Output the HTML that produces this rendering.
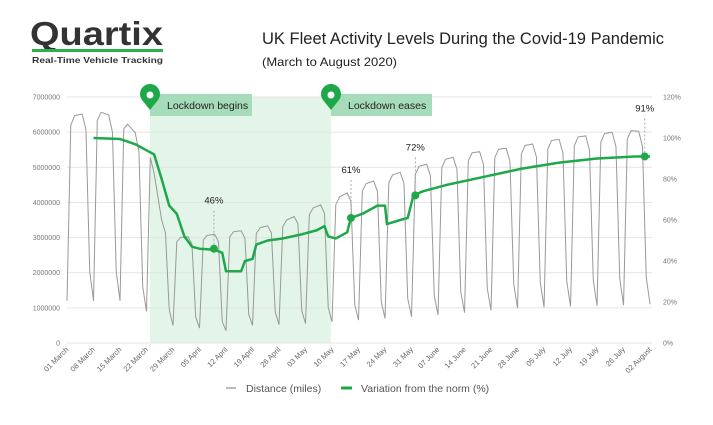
<!DOCTYPE html>
<html><head><meta charset="utf-8"><style>
body{margin:0;background:#fff;width:713px;height:420px;overflow:hidden;font-family:"Liberation Sans",sans-serif}
</style></head><body>
<svg id="s" width="713" height="420" xmlns="http://www.w3.org/2000/svg" font-family="Liberation Sans, sans-serif">
<text x="30" y="45" font-size="33" font-weight="bold" fill="#333" textLength="133" lengthAdjust="spacingAndGlyphs">Quartix</text>
<rect x="32" y="49" width="131" height="3" fill="#2db04b"/>
<text x="32" y="63" font-size="8.5" font-weight="bold" fill="#333" textLength="131" lengthAdjust="spacingAndGlyphs">Real-Time Vehicle Tracking</text>
<text x="262" y="44" font-size="17" fill="#222" textLength="402" lengthAdjust="spacingAndGlyphs">UK Fleet Activity Levels During the Covid-19 Pandemic</text>
<text x="262" y="66" font-size="12" fill="#222" textLength="135" lengthAdjust="spacingAndGlyphs">(March to August 2020)</text>
<rect x="150" y="97" width="181" height="246" fill="#e3f4e8"/>
<g id="grid"></g>
<rect x="150" y="94" width="102" height="22" fill="#a6dcba"/>
<rect x="331" y="94" width="101" height="22" fill="#a6dcba"/>
<text x="167" y="109" font-size="10.5" fill="#222">Lockdown begins</text>
<text x="348" y="109" font-size="10.5" fill="#222">Lockdown eases</text>
<path d="M150,110 L142,100 A10,10 0 1,1 158,100 Z" fill="#1fa84a"/><circle cx="150" cy="95" r="3.5" fill="#fff"/>
<path d="M331,110 L323,100 A10,10 0 1,1 339,100 Z" fill="#1fa84a"/><circle cx="331" cy="95" r="3.5" fill="#fff"/>
<g id="data"></g>
<line x1="226" y1="388" x2="236" y2="388" stroke="#bbb" stroke-width="2"/>
<text x="246" y="392" font-size="10.5" fill="#555">Distance (miles)</text>
<line x1="341" y1="388" x2="352" y2="388" stroke="#1fa84a" stroke-width="3"/>
<text x="361" y="392" font-size="10.5" fill="#555">Variation from the norm (%)</text>
</svg>
<script>
const NS="http://www.w3.org/2000/svg";
function el(p,t,a,txt){const e=document.createElementNS(NS,t);for(const k in a)e.setAttribute(k,a[k]);if(txt!==undefined)e.textContent=txt;p.appendChild(e);return e;}
const g=document.getElementById('grid'),d=document.getElementById('data');
const X=i=>67+i*3.786, YL=v=>343-v*35.14/1e6, YR=p=>343-p*2.05;
for(let k=0;k<=7;k++){const y=343-k*35.14;el(g,'line',{x1:67,x2:652,y1:y,y2:y,stroke:'#e4e4e4','stroke-width':1});
el(g,'text',{x:60,y:y+2.5,'font-size':7,fill:'#777','text-anchor':'end'},k?k*1000000:0);}
for(let k=0;k<=6;k++){const y=343-k*41;el(g,'text',{x:663,y:y+2.5,'font-size':7,fill:'#777'},k*20+'%');}
const labs=['01 March','08 March','15 March','22 March','29 March','05 April','12 April','19 April','26 April','03 May','10 May','17 May','24 May','31 May','07 June','14 June','21 June','28 June','05 July','12 July','19 July','26 July','02 August'];
labs.forEach((l,i)=>{const x=X(i*7)+2;el(g,'text',{x:x,y:350,'font-size':7.5,fill:'#666','text-anchor':'end',transform:`rotate(-45 ${x} 350)`},l);});
function interp(pts,t){for(let i=0;i<pts.length-1;i++){if(t<=pts[i+1][0]){const[a,b]=pts[i],[c,e]=pts[i+1];return b+(e-b)*(t-a)/(c-a);}}return pts[pts.length-1][1];}
const peaks=[[1,6.45],[8,6.6],[15,6.35],[22,5.5],[25,3.5],[29,3.0],[36,3.05],[43,3.15],[50,3.25],[57,3.45],[64,3.8],[71,4.1],[78,4.5],[85,4.75],[92,5.0],[99,5.2],[106,5.4],[113,5.5],[120,5.6],[127,5.75],[134,5.85],[141,5.95],[148,6.05],[154,6.0]];
const lows=[[0,1.2],[14,1.2],[21,0.9],[28,0.5],[42,0.35],[49,0.5],[63,0.55],[70,0.6],[84,0.7],[98,0.8],[120,1.0],[154,1.1]];
let pts=[];
for(let i=0;i<=154;i++){const w=i%7;let v;
 if(w===0)v=interp(lows,i);else if(w===6)v=interp(lows,i)*1.7;
 else{const p=interp(peaks,i);v=p*(w==1?0.96:w==5?0.93:1);}
 pts.push([X(i),YL(v*1e6)]);}
el(d,'polyline',{points:pts.map(p=>p.join(',')).join(' '),fill:'none',stroke:'#999','stroke-width':1});
const G=[[7,100],[14,99.5],[18,97],[21,94],[23,92],[25,80],[27,67],[29,63],[31,52],[33,47],[35,46],[39,45.5],[41,44],[42,35],[46,35],[47,40],[49,41],[50,48],[53,50],[57,51],[62,53],[66,55],[68,57],[69,52],[71,51],[74,54],[75,61],[78,63],[82,67],[84,67],[84.5,58],[88,60],[90,61],[91.5,72],[94,74],[100,77],[110,81],[120,85],[130,88],[140,90],[150,91],[154,91]];
el(d,'polyline',{points:G.map(p=>X(p[0])+','+YR(p[1])).join(' '),fill:'none',stroke:'#1fa84a','stroke-width':2.5,'stroke-linejoin':'round'});
[[38.8,46,'46%'],[75,61,'61%'],[92,72,'72%'],[152.6,91,'91%']].forEach(([t,p,l])=>{const x=X(t),y=YR(p);
 el(d,'line',{x1:x,x2:x,y1:y,y2:y-38,stroke:'#999','stroke-width':0.8,'stroke-dasharray':'2,2'});
 el(d,'circle',{cx:x,cy:y,r:4,fill:'#1fa84a'});
 el(d,'text',{x:x,y:y-45,'font-size':9.5,fill:'#222','text-anchor':'middle'},l);});
</script>
</body></html>
